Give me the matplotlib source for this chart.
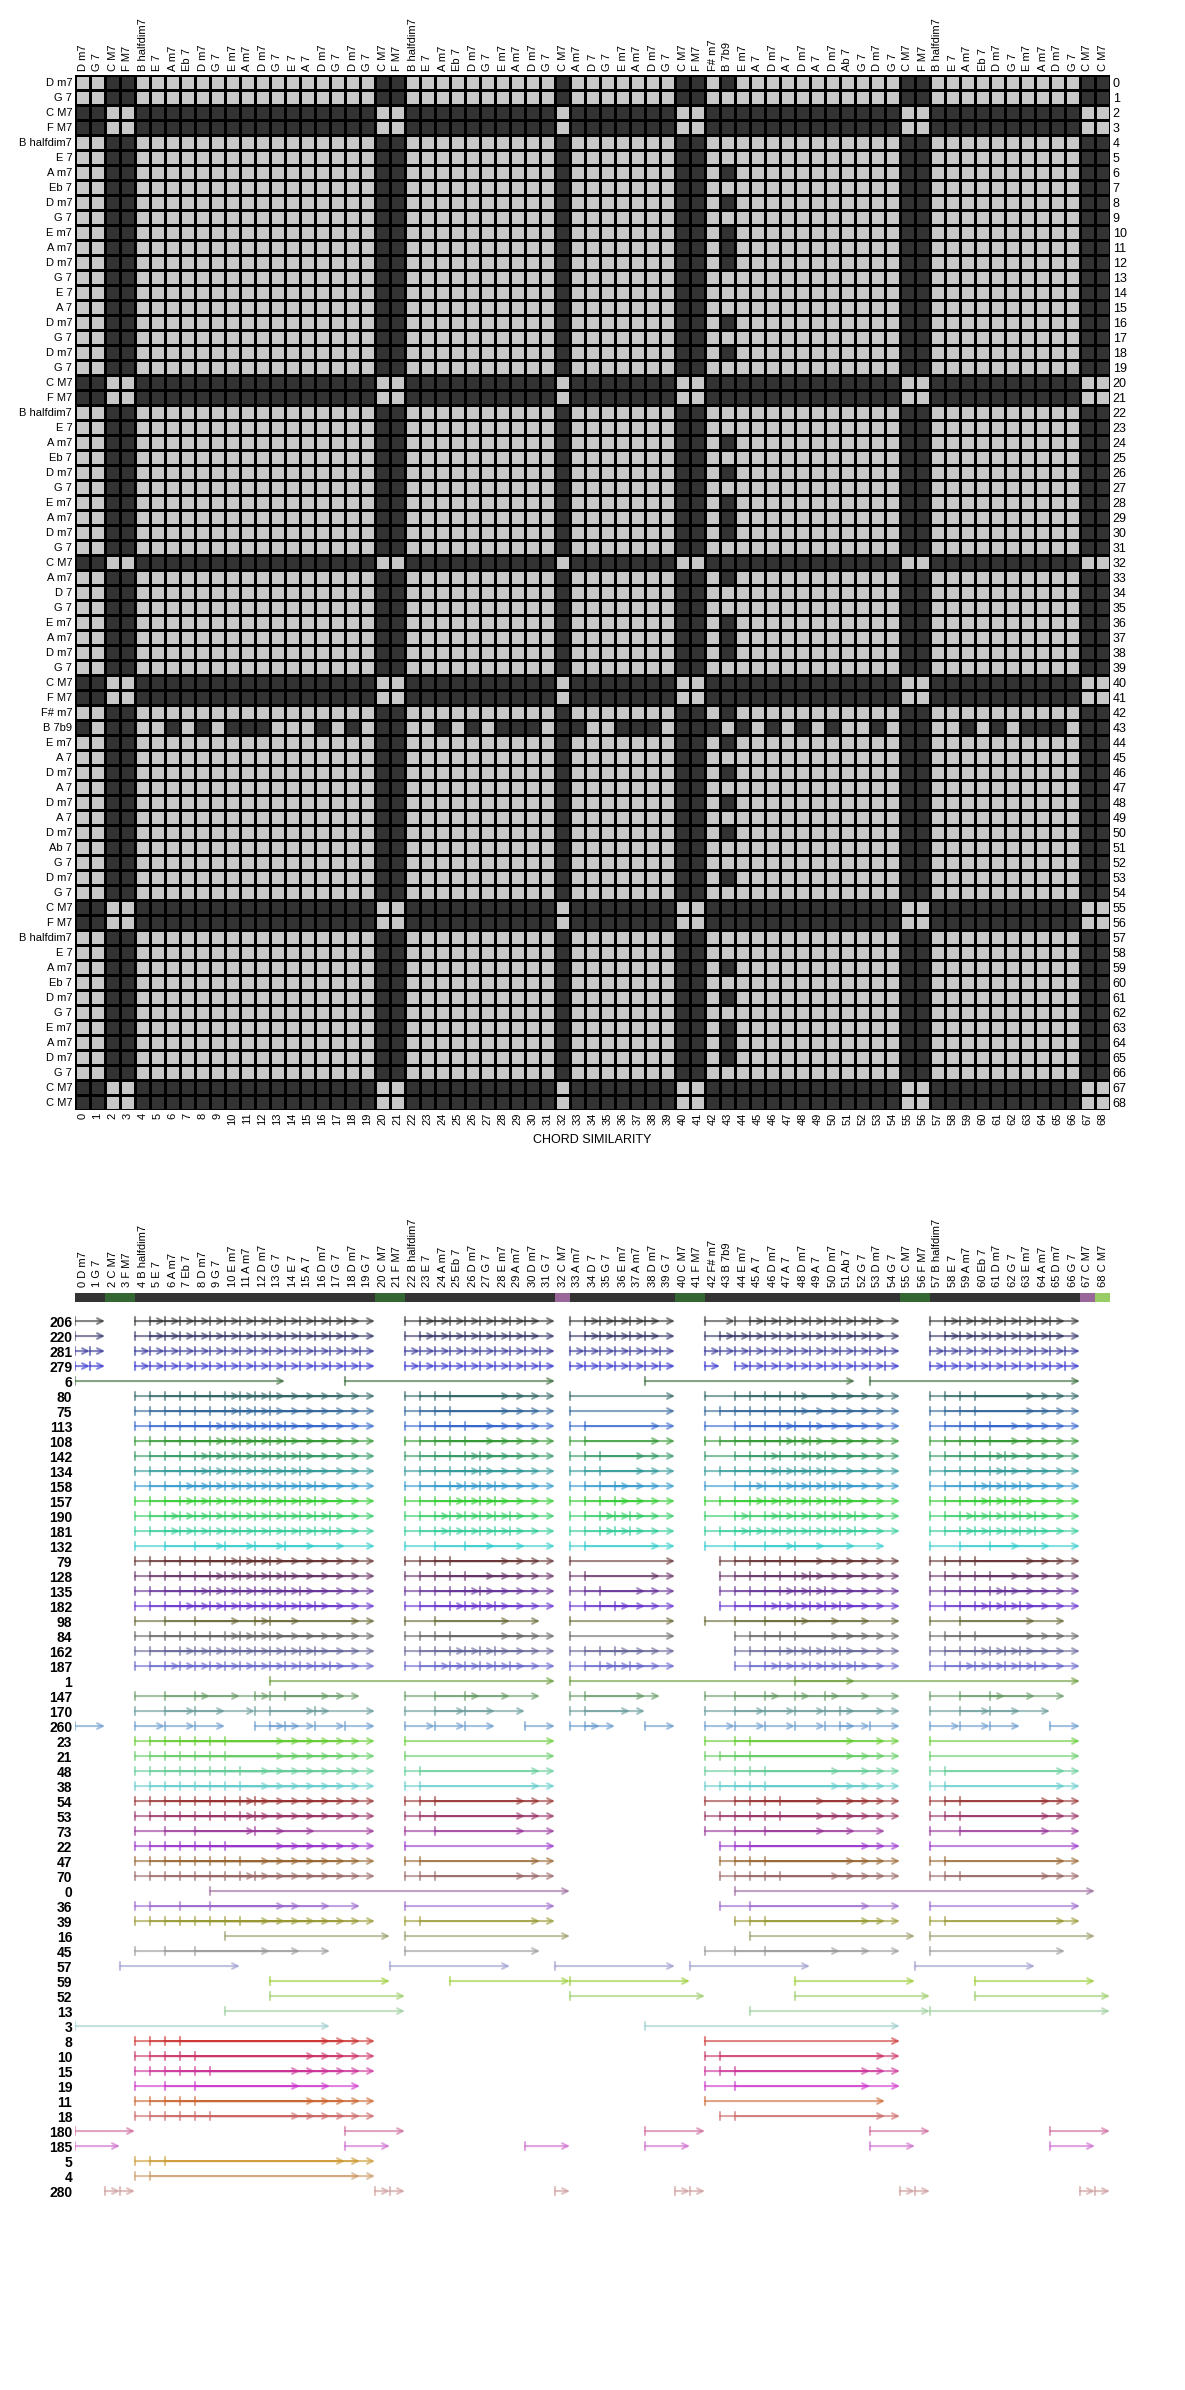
import numpy as np
import matplotlib
matplotlib.use('Agg')
import matplotlib.pyplot as plt
from matplotlib.colors import ListedColormap
from matplotlib.patches import FancyArrowPatch, ArrowStyle, Rectangle

plt.rcParams['font.family'] = ['Liberation Sans Narrow', 'Liberation Sans', 'DejaVu Sans']

chords = ['D m7', 'G 7', 'C M7', 'F M7', 'B halfdim7', 'E 7', 'A m7', 'Eb 7', 'D m7', 'G 7',
          'E m7', 'A m7', 'D m7', 'G 7', 'E 7', 'A 7', 'D m7', 'G 7', 'D m7', 'G 7',
          'C M7', 'F M7', 'B halfdim7', 'E 7', 'A m7', 'Eb 7', 'D m7', 'G 7', 'E m7', 'A m7',
          'D m7', 'G 7', 'C M7', 'A m7', 'D 7', 'G 7', 'E m7', 'A m7', 'D m7', 'G 7',
          'C M7', 'F M7', 'F# m7', 'B 7b9', 'E m7', 'A 7', 'D m7', 'A 7', 'D m7', 'A 7',
          'D m7', 'Ab 7', 'G 7', 'D m7', 'G 7', 'C M7', 'F M7', 'B halfdim7', 'E 7', 'A m7',
          'Eb 7', 'D m7', 'G 7', 'E m7', 'A m7', 'D m7', 'G 7', 'C M7', 'C M7']

# quality pairs that come out dark (not similar) in the matrix
dissimilar = [('M7', 'm7'), ('M7', '7'), ('M7', 'halfdim7'), ('M7', '7b9'), ('7b9', 'm7')]

# pattern rows: label, length (in chords), start positions, colour
row_labels = ['206', '220', '281', '279', '6', '80', '75', '113', '108', '142', '134', '158',
              '157', '190', '181', '132', '79', '128', '135', '182', '98', '84', '162', '187',
              '1', '147', '170', '260', '23', '21', '48', '38', '54', '53', '73', '22', '47',
              '70', '0', '36', '39', '16', '45', '57', '59', '52', '13', '3', '8', '10', '15',
              '19', '11', '18', '180', '185', '5', '4', '280']
row_lengths = [2, 2, 1, 1, 14, 7, 7, 6, 6, 5, 5, 4, 4, 3, 3, 6, 7, 6, 5, 4, 7, 7, 4, 3,
               19, 5, 4, 2, 10, 10, 9, 9, 8, 8, 8, 10, 9, 8, 24, 10, 9, 11, 9, 8, 8, 9,
               12, 17, 13, 12, 11, 11, 12, 11, 4, 3, 14, 15, 1]
row_starts = [
    "0 4-18 22-30 33-38 42 44-53 57-65",
    "0 4-18 22-30 33-38 42-53 57-65",
    "0-1 4-19 22-31 33-39 42-54 57-66",
    "0-1 4-19 22-31 33-39 42 44-54 57-66",
    "0 18 38 53",
    "4-13 22-25 33 42 44-48 57-60",
    "4-13 22-25 33 42-48 57-60",
    "4-14 22-26 33-34 42 44-49 57-61",
    "4-14 22-26 33-34 42-49 57-61",
    "4-15 22-27 33-35 42 44-50 57-62",
    "4-15 22-27 33-35 42-50 57-62",
    "4-16 22-28 33-36 42 44-51 57-63",
    "4-16 22-28 33-36 42-51 57-63",
    "4-17 22-29 33-37 42 44-52 57-64",
    "4-17 22-29 33-37 42-52 57-64",
    "4 6 8 10 12 14 22 24 26 33-34 42 44 46 48 57 59 61",
    "4-13 22-25 33 43-48 57-60",
    "4-14 22-26 33-34 43-49 57-61",
    "4-15 22-27 33-35 43-50 57-62",
    "4-16 22-28 33-36 43-51 57-63",
    "4 6 8 12 13 22 24 33 42 44 46 48 57 59",
    "4-13 22-25 33 44-48 57-60",
    "4-16 22-28 33-36 44-51 57-63",
    "4-17 22-29 33-37 44-52 57-64",
    "13 33 48",
    "4 6 8 12-14 22 24 26 33-34 42 44 46 48 50 57 59 61",
    "4 6 8 12 13 16 22 24 26 33-34 42 44 46 48 50 51 57 59 61",
    "0 4 6 8 12-14 16 18 22 24 26 30 33-34 38 42 44 46 48 50 51 53 57 59 61 65",
    "4-10 22 42 44-45 57",
    "4-10 22 42-45 57",
    "4-11 22-23 42 44-46 57-58",
    "4-11 22-23 42-46 57-58",
    "4-12 22-24 42 44-47 57-59",
    "4-12 22-24 42-47 57-59",
    "4 6 8 12 22 24 42 44 46 57 59",
    "4-10 22 43-45 57",
    "4-11 22-23 43-46 57-58",
    "4-12 22-24 43-47 57-59",
    "9 44",
    "4 5 7 9 22 43 45 57",
    "4-11 22-23 44-46 57-58",
    "10 22 45 57",
    "4 6 8 22 42 44 46 57",
    "3 21 32 41 56",
    "13 25 33 48 60",
    "13 33 48 60",
    "10 45 57",
    "0 38",
    "4-7 42",
    "4-8 42-43",
    "4-9 42-44",
    "4 6 8 42 44",
    "4-8 42",
    "4-9 43-44",
    "0 18 38 53 65",
    "0 18 30 38 53 65",
    "4-6",
    "4-5",
    "2-3 20-21 32 40-41 55-56 67-68",
]
row_colors = ['#333333', '#333366', '#333399', '#3333cc', '#336633', '#336666', '#336699',
              '#3366cc', '#339933', '#339966', '#339999', '#3399cc', '#33cc33', '#33cc66',
              '#33cc99', '#33cccc', '#663333', '#663366', '#663399', '#6633cc', '#666633',
              '#666666', '#666699', '#6666cc', '#669933', '#669966', '#669999', '#6699cc',
              '#66cc33', '#66cc66', '#66cc99', '#66cccc', '#993333', '#993366', '#993399',
              '#9933cc', '#996633', '#996666', '#996699', '#9966cc', '#999933', '#999966',
              '#999999', '#9999cc', '#99cc33', '#99cc66', '#99cc99', '#99cccc', '#cc3333',
              '#cc3366', '#cc3399', '#cc33cc', '#cc6633', '#cc6666', '#cc6699', '#cc66cc',
              '#cc9933', '#cc9966', '#cc9999']

# colour strip above the pattern rows, one letter per chord
strip_codes = "ddgg" + "dddddddddddddddd" + "gg" + "dddddddddd" + "p" + "ddddddd" + "gg" \
              + "ddddddddddddd" + "gg" + "dddddddddd" + "p" + "l"
strip_palette = {'d': '#333333', 'g': '#336633', 'p': '#996699', 'l': '#99cc66'}


def expand(spec):
    out = []
    for tok in spec.split():
        if '-' in tok:
            a, b = tok.split('-')
            out += list(range(int(a), int(b) + 1))
        else:
            out.append(int(tok))
    return out


W, H = 1185, 2390


def box(left, top, w, h):
    return [left / W, 1 - (top + h) / H, w / W, h / H]


n = len(chords)
qual = [c.split()[1] for c in chords]
bad = set(dissimilar) | set((b, a) for a, b in dissimilar)
sim = np.array([[1 if (qa, qb) in bad else 0 for qb in qual] for qa in qual])

fig = plt.figure(figsize=(W / 100, H / 100), dpi=100)

# --- similarity matrix ---
ax = fig.add_axes(box(75, 75, 1035, 1035))
ax.pcolormesh(np.arange(n + 1), np.arange(n + 1), sim, vmin=0, vmax=1,
              cmap=ListedColormap(['#c8c8c8', '#333333']), edgecolors='black', linewidth=1.0)
ax.set_xlim(0, n)
ax.set_ylim(n, 0)
pos = np.arange(n) + 0.5
nums = [str(i) for i in range(n)]
ax.set_xticks(pos, nums, rotation=90, fontsize=8)
ax.set_yticks(pos, chords, fontsize=8)
ax.tick_params(length=0, pad=2)
for s in ax.spines.values():
    s.set_visible(False)
top = ax.secondary_xaxis('top')
top.set_xticks(pos, chords, rotation=90, fontsize=8)
top.tick_params(length=0, pad=3)
top.spines['top'].set_visible(False)
right = ax.secondary_yaxis('right')
right.set_yticks(pos, nums, fontsize=9)
right.tick_params(length=0, pad=2)
right.spines['right'].set_visible(False)
ax.set_xlabel('CHORD SIMILARITY', fontsize=9, labelpad=6)

# --- pattern occurrences ---
bx = fig.add_axes(box(75, 1290, 1035, 915))
bx.set_xlim(0, n)
bx.set_ylim(61, 0)
for i, code in enumerate(strip_codes):
    bx.add_patch(Rectangle((i, 0.2), 1, 0.6, facecolor=strip_palette[code], lw=0))

y0 = 2.07
style = ArrowStyle(']->', widthA=0.3, lengthA=0)
for r, (L, spec, c) in enumerate(zip(row_lengths, row_starts, row_colors)):
    y = y0 + r
    for s in expand(spec):
        bx.add_patch(FancyArrowPatch((s, y), (s + L, y), arrowstyle=style, mutation_scale=10,
                                     color=c, alpha=0.6, lw=1.5, shrinkA=0, shrinkB=0))

bx.set_yticks(np.arange(len(row_labels)) + y0, row_labels, fontsize=10, fontweight='bold')
bx.xaxis.tick_top()
bx.set_xticks(pos, [f'{i} {c}' for i, c in enumerate(chords)], rotation=90, fontsize=8)
bx.tick_params(length=0, pad=2)
for s in bx.spines.values():
    s.set_visible(False)

fig.savefig('out.png', dpi=100)
